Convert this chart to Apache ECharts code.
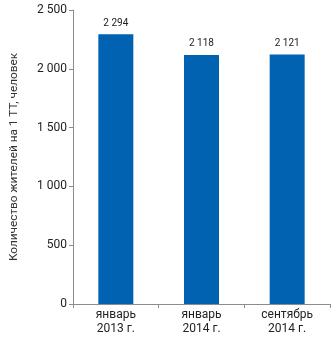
<!DOCTYPE html>
<html><head><meta charset="utf-8">
<script src="https://cdn.jsdelivr.net/npm/echarts@6/dist/echarts.min.js"></script>
<style>html,body{margin:0;padding:0;background:#fff}#c{width:331px;height:337px}</style>
</head><body><div id="c"></div>
<script>
const categories = ['январь\n2013 г.', 'январь\n2014 г.', 'сентябрь\n2014 г.'];
const values = [2294, 2118, 2121];
const yAxisName = 'Количество жителей на 1 ТТ, человек';

const fmt = v => String(v).replace(/\B(?=(\d{3})+(?!\d))/g, ' ');
const chart = echarts.init(document.getElementById('c'), null, {renderer: 'canvas'});
chart.setOption({
  animation: false,
  grid: {left: 64, right: 1, top: 10, bottom: 33},
  xAxis: {
    type: 'category', data: categories,
    axisLine: {lineStyle: {color: '#8c8c8c'}},
    axisTick: {show: true, length: 4, lineStyle: {color: '#8c8c8c'}},
    axisLabel: {color: '#222', fontFamily: 'Roboto', fontSize: 12, lineHeight: 14, margin: 4}
  },
  yAxis: {
    type: 'value', min: 0, max: 2500, interval: 500,
    name: yAxisName, nameLocation: 'middle', nameGap: 53, nameRotate: 90,
    nameTextStyle: {color: '#333', fontFamily: 'Roboto', fontSize: 11.8},
    axisLine: {show: true, lineStyle: {color: '#8c8c8c'}},
    axisTick: {show: true, length: 4, lineStyle: {color: '#8c8c8c'}},
    splitLine: {show: false},
    axisLabel: {color: '#222', fontFamily: 'Roboto', fontSize: 12, margin: 6, formatter: fmt}
  },
  series: [{
    type: 'bar', data: values, barWidth: 35,
    itemStyle: {color: '#0062B1'},
    label: {show: true, position: 'top', distance: 6, color: '#222', fontFamily: 'Roboto', fontSize: 10, formatter: p => fmt(p.value)}
  }]
});
</script></body></html>
